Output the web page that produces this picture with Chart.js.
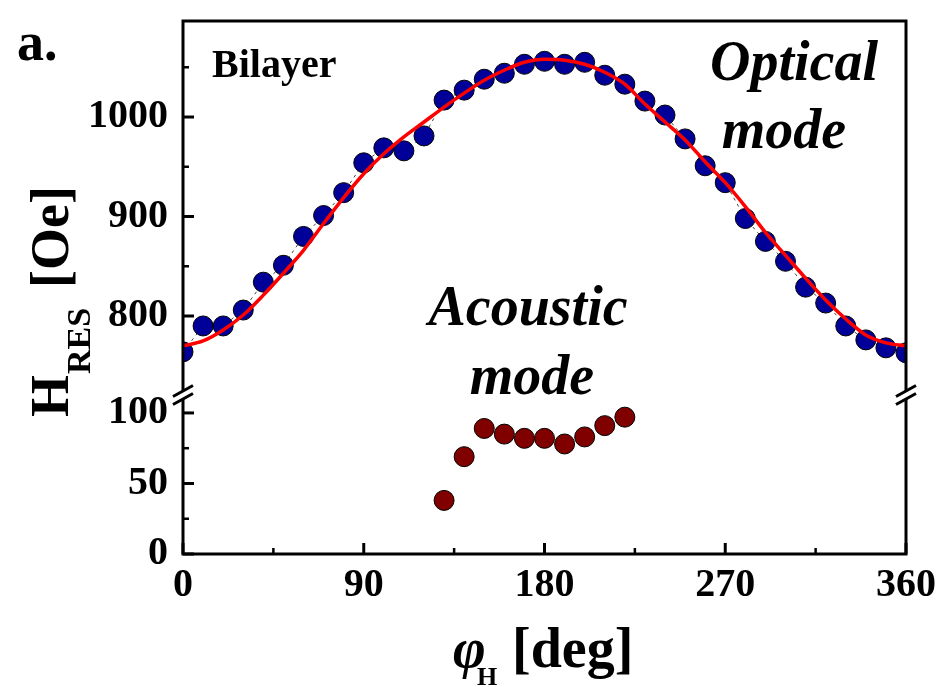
<!DOCTYPE html>
<html>
<head>
<meta charset="utf-8">
<script src="https://cdn.jsdelivr.net/npm/chart.js@4.4.1/dist/chart.umd.min.js"></script>
<style>
  html, body { margin: 0; padding: 0; background: #fff; }
  #wrap { position: relative; width: 944px; height: 687px; }
</style>
</head>
<body>
<div id="wrap"><canvas id="fmrChart" width="944" height="687"></canvas></div>
<script>
// field angle in degrees
const angles = [0, 10, 20, 30, 40, 50, 60, 70, 80, 90, 100, 110, 120, 130, 140, 150, 160, 170, 180,
                190, 200, 210, 220, 230, 240, 250, 260, 270, 280, 290, 300, 310, 320, 330, 340, 350, 360];
// optical mode resonance field (Oe)
const opticalRes = [764, 790, 790, 806, 834, 851, 880, 901, 924, 954, 969, 966, 981, 1017, 1027, 1038, 1044, 1053, 1056,
                    1053, 1055, 1042, 1033, 1016, 1002, 978, 951, 934, 898, 875, 855, 829, 813, 790, 776, 768, 763];
// red fit curve
const fitRes = [770, 775, 786, 801, 821, 843, 866, 893, 919, 943, 963, 980, 995, 1010, 1024, 1037, 1047, 1055, 1058,
                1057, 1053, 1045, 1033, 1013, 995, 977, 955, 934, 910, 884, 861, 838, 816, 797, 781, 773, 770];
// acoustic mode
const acousticAngles = [130, 140, 150, 160, 170, 180, 190, 200, 210, 220];
const acousticRes = [38, 69, 89, 85, 82, 82, 78, 83, 91, 97];

const xMajorTicks = [0, 90, 180, 270, 360];
const xMinorTicks = [45, 135, 225, 315];
const topMajorTicks = [800, 900, 1000];
const topMinorTicks = [850, 950, 1050];
const bottomMajorTicks = [0, 50, 100];
const bottomMinorTicks = [25, 75];

const SERIF = '"Liberation Serif", "Times New Roman", serif';
const tickFont = { family: SERIF, size: 40, weight: 'bold', lineHeight: 1.2 };

function setTicks(major, minor) {
    return scale => {
        scale.ticks = major.concat(minor).sort((a, b) => a - b).map(v => ({ value: v }));
    };
}

function fixSize(w, h) {
    return scale => {
        if (w) scale.width = w;
        if (h) scale.height = h;
        scale.paddingTop = 0;
        scale.paddingBottom = 0;
        scale.paddingLeft = 0;
        scale.paddingRight = 0;
    };
}

const annotate = {
    id: 'annotate',
    afterDraw(chart) {
        const { ctx, chartArea: a, scales } = chart;
        const x = scales.x, yt = scales.yTop, yb = scales.yBot;
        ctx.save();
        ctx.strokeStyle = '#000';
        ctx.lineCap = 'butt';

        // frame
        ctx.lineWidth = 3;
        ctx.strokeRect(a.left, a.top, a.right - a.left, a.bottom - a.top);

        // inward tick marks
        const tick = (x1, y1, x2, y2, w) => {
            ctx.lineWidth = w;
            ctx.beginPath(); ctx.moveTo(x1, y1); ctx.lineTo(x2, y2); ctx.stroke();
        };
        xMajorTicks.forEach(v => { const px = x.getPixelForValue(v); tick(px, a.bottom, px, a.bottom - 11, 3); });
        xMinorTicks.forEach(v => { const px = x.getPixelForValue(v); tick(px, a.bottom, px, a.bottom - 6, 2.5); });
        topMajorTicks.forEach(v => { const py = yt.getPixelForValue(v); tick(a.left, py, a.left + 11, py, 3); });
        topMinorTicks.forEach(v => { const py = yt.getPixelForValue(v); tick(a.left, py, a.left + 6, py, 2.5); });
        bottomMajorTicks.forEach(v => { const py = yb.getPixelForValue(v); tick(a.left, py, a.left + 11, py, 3); });
        bottomMinorTicks.forEach(v => { const py = yb.getPixelForValue(v); tick(a.left, py, a.left + 6, py, 2.5); });

        // axis break marks
        const bc = yt.bottom - 2;
        [a.left, a.right].forEach(bx => {
            ctx.fillStyle = '#fff';
            ctx.fillRect(bx - 3, bc - 4, 6, 8);
            [-4, 4].forEach(off => {
                tick(bx - 10, bc + off + 5.5, bx + 10, bc + off - 5.5, 3);
            });
        });

        // texts
        ctx.fillStyle = '#000';
        ctx.textBaseline = 'alphabetic';
        ctx.textAlign = 'left';
        ctx.font = `bold 54px ${SERIF}`;
        ctx.fillText('a.', 17, 60);
        ctx.font = `bold 40px ${SERIF}`;
        ctx.fillText('Bilayer', 212, 77);

        ctx.textAlign = 'center';
        ctx.font = `italic bold 56px ${SERIF}`;
        ctx.fillText('Optical', 794, 80);
        ctx.fillText('mode', 784, 148);
        ctx.fillText('Acoustic', 528, 325);
        ctx.fillText('mode', 532, 394);

        // x title
        ctx.textAlign = 'left';
        ctx.font = `italic bold 56px ${SERIF}`;
        ctx.fillText('\u03C6', 453, 667);
        ctx.font = `bold 26px ${SERIF}`;
        ctx.fillText('H', 477, 685);
        ctx.font = `bold 56px ${SERIF}`;
        ctx.fillText('[deg]', 512, 667);

        // y title
        ctx.translate(68, 417);
        ctx.rotate(-Math.PI / 2);
        ctx.font = `bold 54px ${SERIF}`;
        ctx.fillText('H', 0, 0);
        let u = ctx.measureText('H').width;
        ctx.font = `bold 34px ${SERIF}`;
        ctx.fillText('RES', u + 1, 22);
        ctx.font = `bold 54px ${SERIF}`;
        ctx.fillText('[Oe]', 129, 0);
        ctx.restore();
    }
};

new Chart(document.getElementById('fmrChart'), {
    type: 'scatter',
    data: {
        datasets: [
            {
                type: 'line',
                label: 'Fit',
                data: angles.map((a, i) => ({ x: a, y: fitRes[i] })),
                yAxisID: 'yTop',
                borderColor: '#ff0000',
                borderWidth: 3.5,
                pointRadius: 0,
                cubicInterpolationMode: 'monotone',
                fill: false,
                order: 0
            },
            {
                label: 'Optical mode',
                data: angles.map((a, i) => ({ x: a, y: opticalRes[i] })),
                yAxisID: 'yTop',
                showLine: true,
                borderColor: '#444',
                borderWidth: 1,
                borderDash: [3, 4],
                pointRadius: 10,
                pointBackgroundColor: '#000099',
                pointBorderColor: '#000',
                pointBorderWidth: 1,
                order: 1
            },
            {
                label: 'Acoustic mode',
                data: acousticAngles.map((a, i) => ({ x: a, y: acousticRes[i] })),
                yAxisID: 'yBot',
                pointRadius: 10,
                pointBackgroundColor: '#800000',
                pointBorderColor: '#000',
                pointBorderWidth: 1,
                order: 2
            }
        ]
    },
    options: {
        responsive: false,
        animation: false,
        layout: { padding: { left: 63, right: 38, top: 21, bottom: 0 } },
        plugins: {
            legend: { display: false },
            tooltip: { enabled: false }
        },
        scales: {
            x: {
                type: 'linear',
                min: 0,
                max: 360,
                grid: { display: false, drawTicks: false },
                border: { display: false },
                afterBuildTicks: setTicks(xMajorTicks, xMinorTicks),
                afterFit: fixSize(0, 133),
                ticks: {
                    callback: v => xMajorTicks.includes(v) ? String(v) : '',
                    font: tickFont,
                    color: '#000',
                    padding: 8,
                    autoSkip: false,
                    maxRotation: 0
                }
            },
            yTop: {
                type: 'linear',
                position: 'left',
                stack: 'hres',
                stackWeight: 376,
                weight: 1,
                min: 718.6,
                max: 1096.5,
                grid: { display: false, drawTicks: false },
                border: { display: false },
                afterBuildTicks: setTicks(topMajorTicks, topMinorTicks),
                afterFit: fixSize(120, 0),
                ticks: {
                    callback: v => topMajorTicks.includes(v) ? String(v) : '',
                    font: tickFont,
                    color: '#000',
                    padding: 15,
                    autoSkip: false
                }
            },
            yBot: {
                type: 'linear',
                position: 'left',
                stack: 'hres',
                stackWeight: 157,
                weight: 0,
                min: 0,
                max: 111.3,
                grid: { display: false, drawTicks: false },
                border: { display: false },
                afterBuildTicks: setTicks(bottomMajorTicks, bottomMinorTicks),
                afterFit: fixSize(120, 0),
                ticks: {
                    callback: v => bottomMajorTicks.includes(v) ? String(v) : '',
                    font: tickFont,
                    color: '#000',
                    padding: 15,
                    autoSkip: false
                }
            }
        }
    },
    plugins: [annotate]
});
</script>
</body>
</html>
